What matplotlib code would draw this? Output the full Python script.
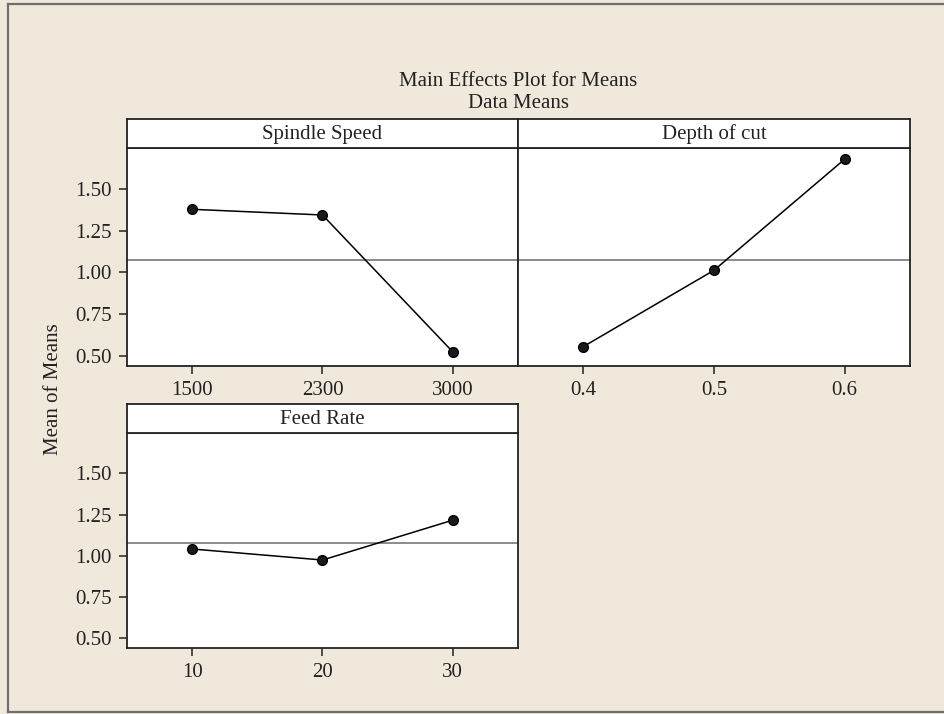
import matplotlib.pyplot as plt
from matplotlib.lines import Line2D

# main effects: mean of means at each factor level
spindle_levels = ["1500", "2300", "3000"]
spindle_means = [1.378, 1.344, 0.524]

depth_levels = ["0.4", "0.5", "0.6"]
depth_means = [0.556, 1.013, 1.678]

feed_levels = ["10", "20", "30"]
feed_means = [1.041, 0.974, 1.216]

grand_mean = 1.077
y_ticks = [0.50, 0.75, 1.00, 1.25, 1.50]

W, H = 945, 714
BG = "#f1e8dc"
INK = "#222222"
FS = 15

plt.rcParams['font.family'] = ['Liberation Serif', 'DejaVu Serif']
plt.rcParams['font.size'] = FS

fig = plt.figure(figsize=(W / 100, H / 100), dpi=100, facecolor=BG)


def px_box(x0, y0, x1, y1):
    # pixel box (top-left origin) -> figure fraction rect
    return [x0 / W, 1 - y1 / H, (x1 - x0) / W, (y1 - y0) / H]


# outer frame: left, top and bottom edges (runs off the right side)
for xs_, ys_ in [((8, 8), (4, 712)), ((8, W + 5), (4, 4)), ((8, W + 5), (712, 712))]:
    fig.lines.append(Line2D([x / W for x in xs_], [1 - y / H for y in ys_],
                            transform=fig.transFigure, color="#6e6e6e",
                            linewidth=1.6))

panels = [
    ("Spindle Speed", spindle_levels, spindle_means, (127, 148, 518, 366), True),
    ("Depth of cut", depth_levels, depth_means, (518, 148, 910, 366), False),
    ("Feed Rate", feed_levels, feed_means, (127, 433, 518, 648), True),
]

for title, levels, means, (x0, y0, x1, y1), show_y in panels:
    ax = fig.add_axes(px_box(x0, y0, x1, y1))
    ax.set_facecolor("white")
    xs = list(range(1, len(levels) + 1))
    ax.axhline(grand_mean, color="#8a8a8a", linewidth=1.4, zorder=1)
    ax.plot(xs, means, color="black", linewidth=1.1, marker="o",
            markersize=7, markerfacecolor="#1a1a1a",
            markeredgecolor="black", zorder=3)
    ax.set_xlim(0.5, 3.5)
    ax.set_ylim(0.44, 1.745)
    ax.set_xticks(xs)
    ax.set_xticklabels(levels)
    ax.set_yticks(y_ticks)
    ax.set_yticklabels(["%.2f" % v for v in y_ticks])
    ax.tick_params(direction="out", length=6, width=1.1, pad=5,
                   colors=INK, labelsize=FS)
    ax.tick_params(axis="y", left=show_y, labelleft=show_y)
    for sp in ax.spines.values():
        sp.set_linewidth(1.3)
        sp.set_color(INK)

    # strip header above each panel
    hax = fig.add_axes(px_box(x0, y0 - 29, x1, y0))
    hax.set_facecolor("white")
    hax.set_xticks([])
    hax.set_yticks([])
    for sp in hax.spines.values():
        sp.set_linewidth(1.3)
        sp.set_color(INK)
    hax.text(0.5, 0.47, title, ha="center", va="center", fontsize=FS,
             color=INK, transform=hax.transAxes)

fig.text(518 / W, 1 - 82 / H, "Main Effects Plot for Means", ha="center",
         va="center", fontsize=FS, color=INK)
fig.text(518 / W, 1 - 104 / H, "Data Means", ha="center", va="center",
         fontsize=FS, color=INK)
fig.text(54 / W, 1 - 389 / H, "Mean of Means", ha="center", va="center",
         rotation=90, fontsize=FS, color=INK)

fig.savefig("out.png", dpi=100, facecolor=BG)
